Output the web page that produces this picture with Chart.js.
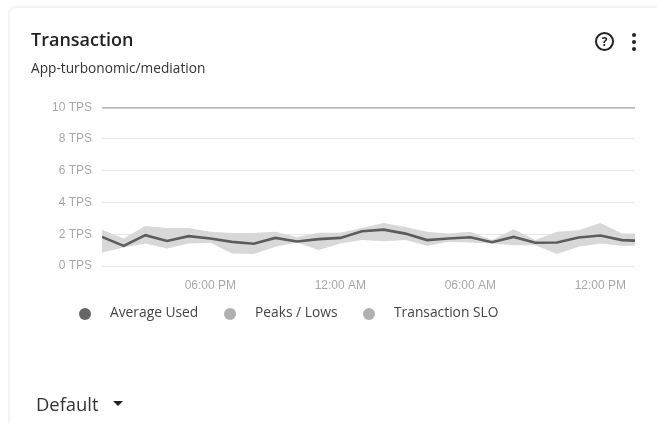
<!DOCTYPE html>
<html>
<head>
<meta charset="utf-8">
<title>Transaction</title>
<script src="https://cdn.jsdelivr.net/npm/chart.js@4"></script>
<style>
  html, body { margin: 0; padding: 0; background: #fff; overflow: hidden; }
  #page { position: relative; width: 657px; height: 423px; font-family: "Open Sans", sans-serif; color: #333; filter: blur(0.55px); }
  #card { position: absolute; left: 8px; top: 6px; width: 680px; height: 440px; border: 2px solid #f4f4f4; border-radius: 8px; box-sizing: border-box; }
  #title { position: absolute; left: 31px; top: 27px; font-size: 18px; font-weight: 600; line-height: 24px; color: #222; }
  #subtitle { position: absolute; left: 31px; top: 59px; font-size: 13.7px; line-height: 17px; color: #333; }
  #help { position: absolute; left: 595px; top: 32px; width: 15px; height: 15px; border: 2px solid #222; border-radius: 50%; font-size: 12px; font-weight: 700; line-height: 15px; text-align: center; color: #222; }
  .dot3 { position: absolute; left: 632px; width: 4px; height: 4px; background: #222; border-radius: 50%; }
  #chart { position: absolute; left: 0; top: 90px; }
  .lg-dot { position: absolute; top: 308px; width: 12px; height: 12px; border-radius: 50%; }
  .lg-text { position: absolute; top: 303px; font-size: 13.8px; line-height: 18px; color: #444; white-space: nowrap; }
  #dflt { position: absolute; left: 36px; top: 391px; font-size: 18.4px; line-height: 25px; color: #333; }
  #caret { position: absolute; left: 113px; top: 401px; width: 0; height: 0; border-left: 5px solid transparent; border-right: 5px solid transparent; border-top: 5px solid #222; }
</style>
</head>
<body>
<div id="page">
  <div id="card"></div>
  <div id="title">Transaction</div>
  <div id="subtitle">App-turbonomic/mediation</div>
  <div id="help">?</div>
  <div class="dot3" style="top:33px"></div>
  <div class="dot3" style="top:40px"></div>
  <div class="dot3" style="top:47px"></div>
  <canvas id="chart" width="657" height="210"></canvas>
  <div id="legend"></div>
  <div id="dflt">Default</div>
  <div id="caret"></div>
</div>
<script>
// hours since 1 PM
const hours = [0, 1, 2, 3, 4, 5, 6, 7, 8, 9, 10, 11, 12, 13, 14, 15, 16, 17, 18, 19, 20, 21, 22, 23, 24, 24.6];
const averageUsed = [1.83, 1.27, 1.94, 1.58, 1.88, 1.73, 1.52, 1.40, 1.77, 1.54, 1.69, 1.77, 2.19, 2.29, 2.04, 1.63, 1.73, 1.81, 1.50, 1.83, 1.46, 1.48, 1.79, 1.92, 1.63, 1.60];
const peaks = [2.29, 1.73, 2.52, 2.40, 2.40, 2.15, 2.08, 2.08, 2.15, 1.83, 2.10, 2.10, 2.40, 2.71, 2.46, 2.15, 2.04, 2.15, 1.63, 2.31, 1.63, 2.15, 2.25, 2.71, 2.04, 2.04];
const lows = [0.85, 1.17, 1.42, 1.10, 1.42, 1.46, 0.79, 0.75, 1.21, 1.48, 1.00, 1.42, 1.63, 1.56, 1.63, 1.27, 1.52, 1.48, 1.42, 1.31, 1.31, 0.75, 1.21, 1.42, 1.27, 1.27];
const slo = [10, 10, 10, 10, 10, 10, 10, 10, 10, 10, 10, 10, 10, 10, 10, 10, 10, 10, 10, 10, 10, 10, 10, 10, 10, 10];
const tickHours = [5, 11, 17, 23];
const tickLabels = ["06:00 PM", "12:00 AM", "06:00 AM", "12:00 PM"];
const legendNames = ["Average Used", "Peaks / Lows", "Transaction SLO"];
const legendColors = ["#666666", "#b0b0b0", "#b0b0b0"];
const legendDotX = [79, 224, 363];
const legendTextX = [110, 255, 394];

const toXY = (vals) => vals.map((v, i) => ({ x: hours[i], y: v }));

function buildLegend() {
  const el = document.getElementById("legend");
  legendNames.forEach((name, i) => {
    const dot = document.createElement("div");
    dot.className = "lg-dot";
    dot.style.left = legendDotX[i] + "px";
    dot.style.background = legendColors[i];
    const txt = document.createElement("div");
    txt.className = "lg-text";
    txt.style.left = legendTextX[i] + "px";
    txt.textContent = name;
    el.appendChild(dot);
    el.appendChild(txt);
  });
}

buildLegend();

new Chart(document.getElementById("chart"), {
  type: "line",
  data: {
    datasets: [
      { label: legendNames[0], data: toXY(averageUsed), borderColor: "#5c5c5c", borderWidth: 2.6, pointRadius: 0, tension: 0, fill: false },
      { label: legendNames[2], data: toXY(slo), borderColor: "#a6a6a6", borderWidth: 2.4, pointRadius: 0, tension: 0, fill: false },
      { label: legendNames[1], data: toXY(peaks), borderWidth: 0, borderColor: "transparent", backgroundColor: "#d8d8d8", pointRadius: 0, tension: 0, fill: "+1" },
      { label: "Lows", data: toXY(lows), borderWidth: 0, borderColor: "transparent", pointRadius: 0, tension: 0, fill: false },
    ],
  },
  options: {
    responsive: false,
    animation: false,
    layout: { padding: { top: 14, right: 22, left: 0, bottom: 0 } },
    plugins: { legend: { display: false }, tooltip: { enabled: false } },
    scales: {
      x: {
        type: "linear",
        min: 0,
        max: 24.6,
        grid: { display: false },
        border: { display: false },
        afterBuildTicks: (axis) => { axis.ticks = tickHours.map((h) => ({ value: h })); },
        afterFit: (axis) => { axis.height = 34; },
        ticks: {
          autoSkip: false,
          maxRotation: 0,
          padding: 4,
          color: "#a8a8a8",
          font: { family: "Liberation Sans", size: 12 },
          callback: (v) => tickLabels[tickHours.indexOf(v)],
        },
      },
      y: {
        min: 0,
        max: 10,
        afterFit: (axis) => { axis.width = 102; },
        grid: { color: "#e6e6e6", lineWidth: 1, drawTicks: false },
        border: { display: false },
        ticks: {
          stepSize: 2,
          padding: 10,
          color: "#a8a8a8",
          font: { family: "Liberation Sans", size: 12 },
          callback: (v) => v + " TPS",
        },
      },
    },
  },
});
</script>
</body>
</html>
